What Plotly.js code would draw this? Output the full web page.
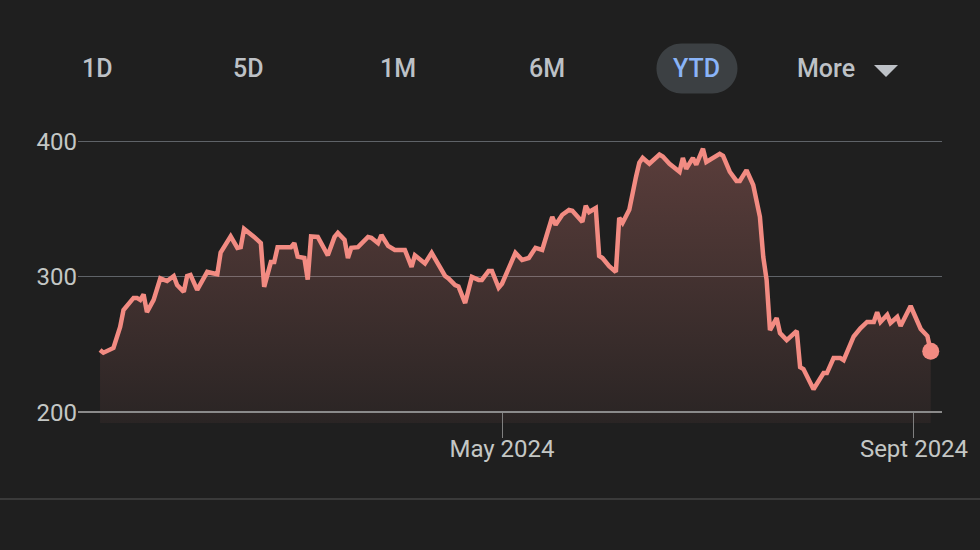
<!DOCTYPE html>
<html>
<head>
<meta charset="utf-8">
<script src="https://cdn.plot.ly/plotly-3.0.1.min.js"></script>
<style>
  html, body { margin: 0; padding: 0; background: #1f1f1f; }
  #chart { width: 980px; height: 550px; }
</style>
</head>
<body>
<div id="chart"></div>
<script>
// ---- data ----
const dates = [
  '2024-01-02','2024-01-03','2024-01-06','2024-01-08','2024-01-09','2024-01-12','2024-01-13','2024-01-14','2024-01-15','2024-01-16',
  '2024-01-18','2024-01-20','2024-01-22','2024-01-24','2024-01-25','2024-01-27','2024-01-28','2024-01-29','2024-01-31',
  '2024-02-03','2024-02-06','2024-02-07','2024-02-10','2024-02-12','2024-02-13','2024-02-14','2024-02-17','2024-02-19','2024-02-20',
  '2024-02-22','2024-02-23','2024-02-24','2024-02-28','2024-02-29',
  '2024-03-01','2024-03-03','2024-03-04','2024-03-05','2024-03-07','2024-03-10','2024-03-12','2024-03-13','2024-03-15','2024-03-16',
  '2024-03-17','2024-03-19','2024-03-22','2024-03-23','2024-03-25','2024-03-26','2024-03-28','2024-03-30',
  '2024-04-02','2024-04-04','2024-04-05','2024-04-08','2024-04-10','2024-04-14','2024-04-15','2024-04-17','2024-04-18','2024-04-20',
  '2024-04-22','2024-04-24','2024-04-25','2024-04-27','2024-04-28','2024-04-30',
  '2024-05-01','2024-05-05','2024-05-07','2024-05-09','2024-05-11','2024-05-13','2024-05-16','2024-05-17','2024-05-19','2024-05-21',
  '2024-05-22','2024-05-25','2024-05-26','2024-05-27','2024-05-29','2024-05-30','2024-05-31',
  '2024-06-02','2024-06-04','2024-06-05','2024-06-06','2024-06-08','2024-06-10','2024-06-11','2024-06-12','2024-06-14','2024-06-17',
  '2024-06-18','2024-06-20','2024-06-21','2024-06-23','2024-06-24','2024-06-25','2024-06-27','2024-06-28','2024-06-30',
  '2024-07-01','2024-07-05','2024-07-06','2024-07-08','2024-07-10','2024-07-11','2024-07-13','2024-07-15','2024-07-17','2024-07-18',
  '2024-07-19','2024-07-20','2024-07-22','2024-07-23','2024-07-25','2024-07-28','2024-07-29','2024-07-30',
  '2024-08-02','2024-08-05','2024-08-06','2024-08-08','2024-08-10','2024-08-11','2024-08-14','2024-08-16','2024-08-18','2024-08-20',
  '2024-08-21','2024-08-22','2024-08-24','2024-08-25','2024-08-27','2024-08-28','2024-08-31',
  '2024-09-03','2024-09-05','2024-09-06'
];
const prices = [
  246, 244, 247.5, 263, 275.5, 284.5, 284.5, 283, 287, 274,
  283, 299, 297, 300.7, 294, 289, 300.7, 301.5, 290.4,
  303.7, 302, 318, 330, 321.5, 322, 335.5, 329.6, 325, 292.6,
  311, 311, 322, 322, 325,
  315, 314, 298, 330, 329.6, 316, 329.6, 332.6, 327.4, 314,
  321.5, 322, 329.6, 329, 325, 331, 323, 320,
  320, 307.4, 316, 310, 317.8, 300.7, 299, 294, 293, 280.7,
  300, 297.8, 297.8, 304.4, 304.4, 292,
  295, 317.8, 312.6, 314, 321.5, 320, 344.4, 338.5, 346, 349.6,
  349, 340.7, 352.6, 348, 351, 315.6, 314,
  308, 303.7, 343.7, 340, 349.6, 374, 384.4, 388, 383.7, 390.5,
  389, 383.7, 381.5, 377.8, 388, 380, 388, 383, 394.8,
  385, 391, 389.6, 377.8, 371, 371, 379, 368, 344.4, 314.8,
  297.8, 260.7, 269.6, 258.5, 253.3, 260, 233.3, 231.9,
  217, 228.9, 228.9, 240, 240, 238.5, 256, 262, 266.7, 266.7,
  274, 266.7, 272, 266, 270.4, 263.7, 278.5,
  261.5, 256.3, 245
];
const tickDates = ['2024-05-01', '2024-09-01'];
const tickLabels = ['May 2024', 'Sept 2024'];
const yTicks = [200, 300, 400];
const rangeButtons = ['1D', '5D', '1M', '6M', 'YTD', 'More'];
const activeButton = 'YTD';

// ---- styling / layout ----
const FONT = 'Roboto, "Noto Sans", sans-serif';
const BG = '#1f1f1f';
const LINE = '#f28b82';
const buttonX = [0.0231, 0.1968, 0.3704, 0.5428, 0.7164, 0.8657];

const last = dates.length - 1;

const traces = [
  {
    x: dates, y: prices, type: 'scatter', mode: 'lines',
    line: { color: LINE, width: 4.5 },
    fill: 'tozeroy',
    fillgradient: {
      type: 'vertical',
      start: 190, stop: 395,
      colorscale: [[0, 'rgba(242,139,130,0.05)'], [1, 'rgba(242,139,130,0.28)']]
    },
    hoverinfo: 'skip', showlegend: false
  },
  {
    x: [dates[last]], y: [prices[last]], type: 'scatter', mode: 'markers',
    marker: { color: LINE, size: 17 },
    hoverinfo: 'skip', showlegend: false
  }
];

const annotations = rangeButtons.map((b, i) => ({
  text: b, xref: 'paper', yref: 'paper', x: buttonX[i], y: 1.25,
  xanchor: 'center', yanchor: 'middle', showarrow: false,
  font: { family: FONT, size: 25, color: b === activeButton ? '#8ab4f8' : '#bdc1c6', weight: 500 }
}));

const layout = {
  width: 980, height: 550,
  margin: { l: 78, r: 38, t: 139, b: 127 },
  paper_bgcolor: BG, plot_bgcolor: BG,
  font: { family: FONT, color: '#c4c7c5', size: 24 },
  showlegend: false,
  xaxis: {
    type: 'date',
    range: ['2023-12-26 10:00', '2024-09-09 08:40'],
    tickmode: 'array', tickvals: tickDates, ticktext: tickLabels,
    ticks: 'outside', ticklen: 25, tickwidth: 1, tickcolor: '#7f7f7f',
    ticklabelstandoff: -10,
    showgrid: false, zeroline: false,
    showline: true, linecolor: '#8a8a8a', linewidth: 2,
    anchor: 'free', position: 0.0387,
    tickfont: { family: FONT, size: 24, color: '#c4c7c5' },
    fixedrange: true
  },
  yaxis: {
    range: [192, 402],
    tickmode: 'array', tickvals: yTicks, ticktext: yTicks.map(String),
    ticks: '', showline: false, zeroline: false,
    showgrid: true, gridcolor: '#5f6368', gridwidth: 1,
    tickfont: { family: FONT, size: 24, color: '#c4c7c5' },
    fixedrange: true
  },
  shapes: [
    {
      type: 'path', xref: 'paper', yref: 'paper',
      xsizemode: 'pixel', ysizemode: 'pixel', xanchor: 0.7164, yanchor: 1.2482,
      path: 'M -15.5 -25 L 15.5 -25 C 29.3 -25 40.5 -13.8 40.5 0 C 40.5 13.8 29.3 25 15.5 25 L -15.5 25 C -29.3 25 -40.5 13.8 -40.5 0 C -40.5 -13.8 -29.3 -25 -15.5 -25 Z',
      fillcolor: '#3c4043', line: { width: 0 }, layer: 'below'
    },
    {
      type: 'path', xref: 'paper', yref: 'paper',
      path: 'M 0.9213 1.2606 L 0.9491 1.2606 L 0.9352 1.2183 Z',
      fillcolor: '#bdc1c6', line: { width: 0 }
    },
    {
      type: 'line', xref: 'paper', yref: 'paper',
      x0: -0.0903, x1: 1.044, y0: -0.2676, y1: -0.2676,
      line: { color: '#3a3a3a', width: 2 }
    }
  ],
  annotations: annotations
};

Plotly.newPlot('chart', traces, layout, { staticPlot: true, displayModeBar: false });
</script>
</body>
</html>
